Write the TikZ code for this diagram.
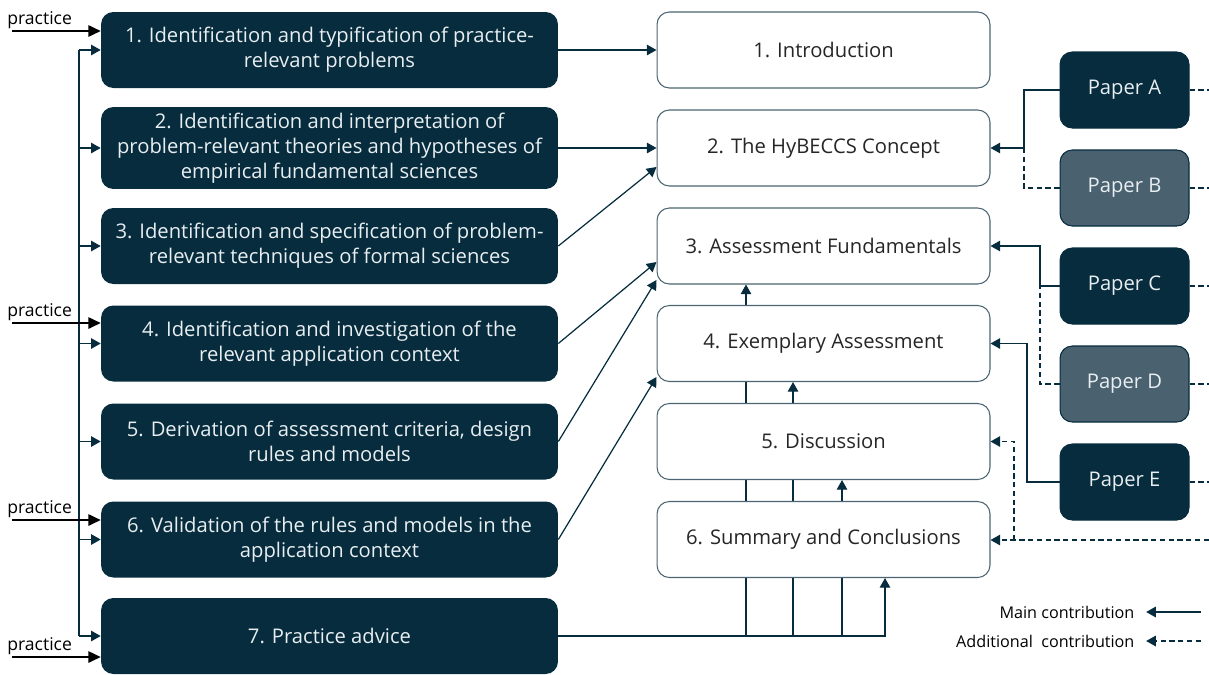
\documentclass[tikz,border=0pt]{standalone}
\usepackage{fontspec}
\setmainfont{Open Sans}
\usetikzlibrary{arrows.meta,backgrounds}

\definecolor{petrol}{HTML}{062C3D}
\definecolor{petrolgrey}{HTML}{4A6270}
\definecolor{boxline}{HTML}{4C6572}
\definecolor{lighttext}{HTML}{E8EEF1}
\definecolor{darktext}{HTML}{262626}

\begin{document}
\begin{tikzpicture}[x=0.02cm,y=-0.02cm,
        stepbox/.style={fill=petrol, rounded corners=7pt, minimum width=9.14cm, minimum height=1.52cm,
            text=lighttext, align=center, font=\fontsize{11.5}{14.2}\selectfont},
        chapbox/.style={draw=boxline, line width=0.6pt, fill=white, rounded corners=7pt, minimum width=6.66cm,
            minimum height=1.52cm, text=darktext, font=\fontsize{11.5}{14.2}\selectfont},
        paperbox/.style={fill=petrol, draw=petrol, line width=0.6pt, rounded corners=7pt, minimum width=2.58cm,
            minimum height=1.52cm, text=lighttext, font=\fontsize{11.5}{14.2}\selectfont},
        paperboxgrey/.style={paperbox, fill=petrolgrey},
        mainline/.style={draw=petrol, line width=0.7pt},
        mainarr/.style={mainline, -{Triangle[length=5.5pt,width=6pt]}},
        addline/.style={mainline, dash pattern=on 3pt off 2pt},
        addarr/.style={addline, -{Triangle[length=5.5pt,width=6pt]}},
        practarr/.style={draw=black, line width=0.8pt, -{Triangle[length=7pt,width=6.5pt]}},
        practlabel/.style={font=\fontsize{10}{12}\selectfont, inner sep=0pt},
        legend/.style={font=\fontsize{9.2}{11}\selectfont, text=black, inner sep=3pt}]
    \useasboundingbox (0,0) rectangle (1209,674);

    % Methodik (links)
    \node[stepbox] (s1) at (329.5,50) {1. Identification and typification of practice-\\relevant problems};
    \node[stepbox] (s2) at (329.5,148) {2. Identification and interpretation of\\problem-relevant theories and hypotheses of\\empirical fundamental sciences};
    \node[stepbox] (s3) at (329.5,246) {3. Identification and specification of problem-\\relevant techniques of formal sciences};
    \node[stepbox] (s4) at (329.5,343.5) {4. Identification and investigation of the\\relevant application context};
    \node[stepbox] (s5) at (329.5,441.5) {5. Derivation of assessment criteria, design\\rules and models};
    \node[stepbox] (s6) at (329.5,539.5) {6. Validation of the rules and models in the\\application context};
    \node[stepbox] (s7) at (329.5,636) {7. Practice advice};

    % Kapitel (Mitte)
    \node[chapbox] (c1) at (823.5,50) {1. Introduction};
    \node[chapbox] (c2) at (823.5,148) {2. The HyBECCS Concept};
    \node[chapbox] (c3) at (823.5,246) {3. Assessment Fundamentals};
    \node[chapbox] (c4) at (823.5,343.5) {4. Exemplary Assessment};
    \node[chapbox] (c5) at (823.5,441.5) {5. Discussion};
    \node[chapbox] (c6) at (823.5,539.5) {6. Summary and Conclusions};

    % Papers (rechts)
    \node[paperbox] (pA) at (1124.5,90) {Paper A};
    \node[paperboxgrey] (pB) at (1124.5,188) {Paper B};
    \node[paperbox] (pC) at (1124.5,286) {Paper C};
    \node[paperboxgrey] (pD) at (1124.5,384) {Paper D};
    \node[paperbox] (pE) at (1124.5,482) {Paper E};

    % Rueckkopplung links
    \coordinate (trunk) at (79,0);
    \draw[mainline] (trunk |- s1.west) -- (trunk |- s7.west);
    \foreach \s in {s1,s2,s3,s4,s5,s6,s7}
        \draw[mainarr] (trunk |- \s.west) -- (\s.west);

    % Input aus der Praxis
    \foreach \s/\y in {s1/31,s4/323,s6/520,s7/657} {
        \node[practlabel, anchor=base west] (pr\s) at (7,\y-7) {practice};
        \draw[practarr] (12,\y) -- (\s.west |- 12,\y);
    }

    % Methodik -> Kapitel
    \draw[mainarr] (s1.east) -- (c1.west);
    \draw[mainarr] (s2.east) -- (c2.west);
    \draw[mainarr] (s3.east) -- (c2.west |- 0,167);
    \draw[mainarr] (s4.east) -- (c3.west |- 0,262);
    \draw[mainarr] (s5.east) -- (c3.west |- 0,280);
    \draw[mainarr] (s6.east) -- (c4.west |- 0,377);

    % Practice advice -> Kapitel 3 bis 6
    \draw[mainarr] (s7.east) -| (c6.south -| 885,0);
    \begin{scope}[on background layer]
        \foreach \x/\tgt in {746/c3,793/c4,842/c5}
            \draw[mainarr] (s7.east -| \x,0) -- (\tgt.south -| \x,0);
    \end{scope}

    % Papers -> Kapitel
    \draw[mainarr] (pA.west) -- (1024,90) |- (c2.east);
    \draw[addline] (pB.west) -| (1024,148);
    \draw[mainarr] (pC.west) -- (1040,286) |- (c3.east);
    \draw[addline] (pD.west) -| (1040,286);
    \draw[mainarr] (pE.west) -- (1027,482) |- (c4.east);
    \coordinate (addin) at (1209,540);
    \draw[addarr] (addin) -- (c6.east |- addin);
    \draw[addarr] (1014,540) |- (c5.east);
    \foreach \p in {pA,pB,pC,pD,pE}
        \draw[addline] (\p.east) -- (\p.east -| addin);

    % Legende
    \node[legend, anchor=east] (lgmain) at (1140,612) {Main contribution};
    \node[legend, anchor=east] (lgadd) at (1140,641) {Additional\ \ contribution};
    \draw[mainarr] (1201,612) -- ([xshift=3.5pt]lgmain.east);
    \draw[addarr] (1201,641) -- ([xshift=3.5pt]lgadd.east);
\end{tikzpicture}
\end{document}
